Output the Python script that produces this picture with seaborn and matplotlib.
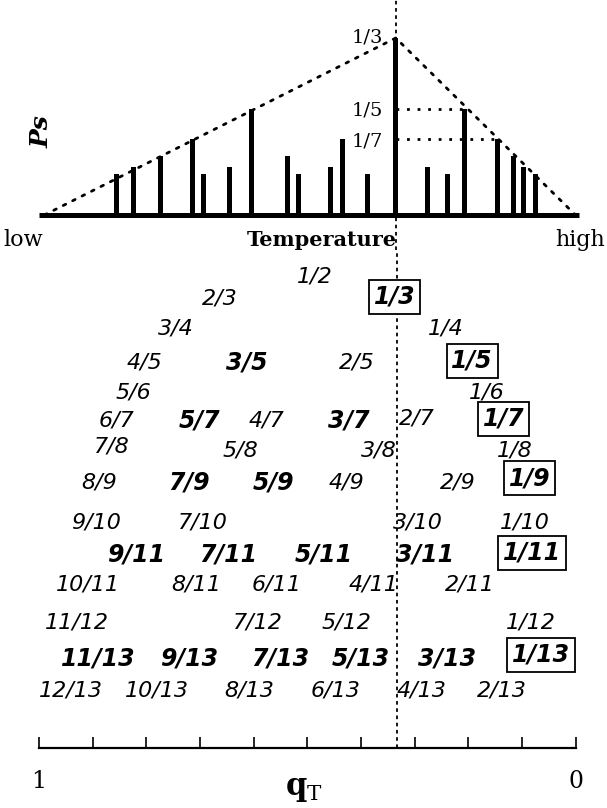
import matplotlib
matplotlib.use("Agg")
import matplotlib.pyplot as plt
from matplotlib.transforms import offset_copy
from fractions import Fraction
import numpy as np
import pandas as pd
import seaborn as sns

# ---------------------------------------------------------------------------
# Temperature panel: stable phases (bars) and their Ps values
# ---------------------------------------------------------------------------
bar_phases = ["11/13", "9/11", "7/9", "5/7", "9/13", "7/11", "3/5", "5/9", "7/13", "5/11",
              "3/7", "5/13", "1/3", "3/11", "3/13", "1/5", "1/7", "1/9", "1/11", "1/13"]
bar_temperature = [0.145, 0.177, 0.226, 0.287, 0.306, 0.356, 0.397, 0.464, 0.483, 0.544,
                   0.565, 0.613, 0.665, 0.725, 0.762, 0.794, 0.854, 0.884, 0.904, 0.925]
bar_ps = [1/13, 1/11, 1/9, 1/7, 1/13, 1/11, 1/5, 1/9, 1/13, 1/11,
          1/7, 1/13, 1/3, 1/11, 1/13, 1/5, 1/7, 1/9, 1/11, 1/13]

envelope_temperature = [0.01, 0.665, 1.0]
envelope_ps = [0.0, 1/3, 0.0]

marked_ps = ["1/3", "1/5", "1/7"]

# ---------------------------------------------------------------------------
# Fractions q_T, one list per line of the table
# ---------------------------------------------------------------------------
fractions_2 = ["1/2"]
fractions_3 = ["2/3", "1/3"]
fractions_4 = ["3/4", "1/4"]
fractions_5 = ["4/5", "3/5", "2/5", "1/5"]
fractions_6 = ["5/6", "1/6"]
fractions_7 = ["6/7", "5/7", "4/7", "3/7", "2/7", "1/7"]
fractions_8 = ["7/8", "5/8", "3/8", "1/8"]
fractions_9 = ["8/9", "7/9", "5/9", "4/9", "2/9", "1/9"]
fractions_10 = ["9/10", "7/10", "3/10", "1/10"]
fractions_11_odd = ["9/11", "7/11", "5/11", "3/11", "1/11"]
fractions_11_even = ["10/11", "8/11", "6/11", "4/11", "2/11"]
fractions_12 = ["11/12", "7/12", "5/12", "1/12"]
fractions_13_odd = ["11/13", "9/13", "7/13", "5/13", "3/13", "1/13"]
fractions_13_even = ["12/13", "10/13", "8/13", "6/13", "4/13", "2/13"]

bold_fractions = ["3/5", "5/7", "3/7", "7/9", "5/9", "9/11", "7/11", "5/11", "3/11",
                  "11/13", "9/13", "7/13", "5/13", "3/13"]
boxed_fractions = ["1/3", "1/5", "1/7", "1/9", "1/11", "1/13"]

q_ticks = [1.0, 0.9, 0.8, 0.7, 0.6, 0.5, 0.4, 0.3, 0.2, 0.1, 0.0]
q_tick_labels = ["1", "", "", "", "", "", "", "", "", "", "0"]

# ---------------------------------------------------------------------------
# Layout (pixels on a 607 x 808 canvas)
# ---------------------------------------------------------------------------
W, H = 607, 808
rows = [(fractions_2, 276), (fractions_3, 297), (fractions_4, 329), (fractions_5, 362),
        (fractions_6, 392), (fractions_7, 420), (fractions_8, 451), (fractions_9, 483),
        (fractions_10, 522), (fractions_11_odd, 555), (fractions_11_even, 585),
        (fractions_12, 622), (fractions_13_odd, 659), (fractions_13_even, 691)]

# hand placement of individual labels (dx, dy) in pixels
label_nudge = {
    "1/2": (8, 0), "2/3": (2, 1), "1/3": (-2, 0), "3/4": (3, 0), "1/4": (4, 0),
    "4/5": (-2, 0), "3/5": (-7, 0), "2/5": (-4, 0), "1/5": (4, -1),
    "5/6": (5, 0), "1/6": (1, 0),
    "6/7": (1, 0), "5/7": (7, 0), "4/7": (-2, 0), "3/7": (3, 0), "2/7": (-5, -1), "1/7": (5, -1),
    "7/8": (6, -4), "3/8": (5, 0), "1/8": (6, -1),
    "8/9": (1, 0), "7/9": (31, 0), "5/9": (-4, 0), "4/9": (9, 0), "2/9": (2, 0), "1/9": (14, -5),
    "9/10": (3, 0), "7/10": (3, 0), "3/10": (3, 0), "1/10": (3, 0),
    "7/11": (-6, 0), "5/11": (-8, 0), "3/11": (-4, 0), "1/11": (5, -2),
    "8/11": (11, 0), "6/11": (-6, 0), "4/11": (-7, 0), "2/11": (-8, 0),
    "11/12": (-7, 0), "7/12": (-5, 0), "5/12": (-5, 0),
    "11/13": (-23, 0), "9/13": (-15, 0), "7/13": (-6, 0), "5/13": (-8, 0), "3/13": (-5, 0),
    "1/13": (7, -4),
    "12/13": (-9, 0), "10/13": (-6, 0), "8/13": (4, 0), "6/13": (8, 0), "4/13": (11, 0),
    "2/13": (9, 0),
}

X0, SPAN = 39.0, 536.5        # x pixel of q=1 (low T) and pixel length of the unit interval
BASE_Y, PS_SCALE = 215.0, 531.0
AXIS_Y = 748.0

sns.set_theme(style="white")
plt.rcParams["font.family"] = ["DejaVu Sans"]
plt.rcParams["mathtext.fontset"] = "dejavuserif"
plt.rcParams["text.color"] = "black"
plt.rcParams["xtick.color"] = "black"
plt.rcParams["axes.labelcolor"] = "black"

fig = plt.figure(figsize=(W / 100, H / 100), dpi=100)
fig.patch.set_facecolor("white")


def px_rect(left, top, right, bottom):
    return [left / W, 1 - bottom / H, (right - left) / W, (bottom - top) / H]


ax_top = fig.add_axes(px_rect(0, 0, W, 250))
ax_low = fig.add_axes(px_rect(0, 250, W, AXIS_Y))
for ax in (ax_top, ax_low):
    ax.set_facecolor("none")

dotted = (0, (1, 2.8))
serif = "DejaVu Serif"

# ---------------------------------------------------------------- top panel
bars = pd.DataFrame({"phase": bar_phases, "T": bar_temperature, "Ps": bar_ps})
min_gap = np.min(np.diff(np.unique(bars["T"])))
bar_width_px = 5.0
sns.barplot(data=bars, x="T", y="Ps", native_scale=True, color="black", saturation=1,
            errorbar=None, width=bar_width_px / (min_gap * SPAN), linewidth=0, ax=ax_top,
            zorder=3)

sns.lineplot(x=envelope_temperature, y=envelope_ps, ax=ax_top, color="black",
             linewidth=2.0, linestyle=dotted, dash_capstyle="round", zorder=2)

ax_top.hlines(0, 0.0, 1.006, color="black", linewidth=3.6, zorder=4)

peak_T = bar_temperature[bar_phases.index("1/3")]
ax_top.axvline(peak_T, color="black", linewidth=1.3, linestyle=(0, (2, 2)), zorder=1)

for m in marked_ps:
    val = float(Fraction(m))
    if m != "1/3":
        end_T = bar_temperature[bar_phases.index(m)]
        ax_top.hlines(val, peak_T, end_T, color="black", linewidth=2.0,
                      linestyle=dotted, zorder=2)
    tr = offset_copy(ax_top.transData, fig=fig, x=-13, y=-2 if m != "1/3" else 1,
                     units="dots")
    ax_top.text(peak_T, val, m, transform=tr, ha="right", va="center",
                family=serif, fontsize=14, color="black")

ax_top.set_xlim(-X0 / SPAN, (W - X0) / SPAN)
ax_top.set_ylim(-(250 - BASE_Y) / PS_SCALE, BASE_Y / PS_SCALE)
ax_top.set_xlabel("")
ax_top.set_ylabel("")
ax_top.set_xticks([])
ax_top.set_yticks([])
for s in ax_top.spines.values():
    s.set_visible(False)

ax_top.text(42 / W, 1 - 132 / 250, "Ps", transform=ax_top.transAxes, rotation=90,
            ha="center", va="center", family=serif, weight="bold", style="italic",
            fontsize=18)
ax_top.text(3 / W, 1 - 246 / 250, "low", transform=ax_top.transAxes, ha="left",
            va="baseline", family=serif, fontsize=16)
ax_top.text(605 / W, 1 - 246 / 250, "high", transform=ax_top.transAxes, ha="right",
            va="baseline", family=serif, fontsize=16)
ax_top.text(322 / W, 1 - 246 / 250, "Temperature", transform=ax_top.transAxes,
            ha="center", va="baseline", family=serif, weight="bold", fontsize=15)

# ---------------------------------------------------------------- fraction table
q_left = (X0 + SPAN) / SPAN          # q at pixel x = 0
q_right = (X0 + SPAN - W) / SPAN     # q at pixel x = W
ax_low.set_xlim(q_left, q_right)
ax_low.set_ylim(AXIS_Y, 250)

ax_low.axvline(float(Fraction("1/3")), color="black", linewidth=1.3,
               linestyle=(0, (2, 2)), zorder=1)

for labels, y in rows:
    for lab in labels:
        q = float(Fraction(lab))
        dx, dy = label_nudge.get(lab, (0, 0))
        tr = offset_copy(ax_low.transData, fig=fig, x=dx, y=-dy, units="dots")
        kw = dict(transform=tr, ha="center", va="center", color="black", zorder=3,
                  family="DejaVu Sans", style="oblique")
        if lab in boxed_fractions:
            ax_low.text(q, y, lab, fontsize=17, weight="bold",
                        bbox=dict(boxstyle="square,pad=0.2", facecolor="white",
                                  edgecolor="black", linewidth=1.3), **kw)
        elif lab in bold_fractions:
            ax_low.text(q, y, lab, fontsize=17, weight="bold", **kw)
        else:
            ax_low.text(q, y, lab, fontsize=16, **kw)

# q_T axis
for side in ("left", "right", "top"):
    ax_low.spines[side].set_visible(False)
ax_low.spines["bottom"].set_visible(True)
ax_low.spines["bottom"].set_color("black")
ax_low.spines["bottom"].set_linewidth(1.6)
ax_low.spines["bottom"].set_bounds(0, 1)
ax_low.set_xticks(q_ticks)
ax_low.set_xticklabels(q_tick_labels, family=serif, fontsize=17, color="black")
ax_low.set_yticks([])
ax_low.tick_params(axis="x", direction="in", length=8, width=1.2, color="black",
                   pad=16, bottom=True, top=False)
ax_low.grid(False)
ax_low.text(0.5, -(789 - AXIS_Y) / (AXIS_Y - 250), r"$\mathbf{q}_{\mathrm{T}}$",
            transform=ax_low.transAxes, ha="center", va="center", fontsize=22,
            color="black")

fig.savefig("out.png", dpi=100, facecolor="white")
